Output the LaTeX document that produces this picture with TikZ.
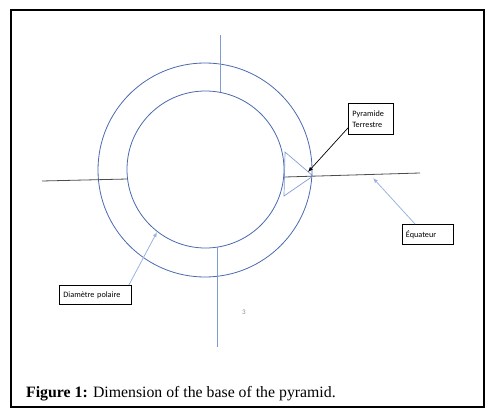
\documentclass[tikz,border=0pt]{standalone}
\usepackage{fontspec}
\setmainfont{Liberation Serif}
\newfontfamily\lblfont{Carlito}
\usepackage{xcolor}
\usetikzlibrary{arrows.meta}
\definecolor{ringblue}{HTML}{4A69AE}
\definecolor{lineblue}{HTML}{7F9BD6}
\definecolor{arrowblue}{HTML}{9AB3DE}

\begin{document}
\begin{tikzpicture}[x=1pt,y=-1pt,>=Latex,
  lbl/.style={draw,line width=0.9pt,anchor=north west,align=left,inner sep=0pt,
    font=\lblfont\fontsize{8.2}{11}\selectfont}]
\useasboundingbox (0,0) rectangle (501,420);
\draw[line width=1.3pt] (11,10) rectangle (484,407);
% the two rings
\node[draw=ringblue,line width=0.8pt,circle,inner sep=0pt,minimum size=214pt] (outer) at (205,170) {};
\node[draw=ringblue,line width=0.8pt,circle,inner sep=0pt,minimum size=157pt] (inner) at (205.5,169.5) {};
\coordinate (n1) at (220,35); \coordinate (n2) at (220,92.4);
\coordinate (s1) at (217,247); \coordinate (s2) at (217,347);
\coordinate (w1) at (42,181); \coordinate (w2) at (127.6,179);
\coordinate (e1) at (285,177); \coordinate (e2) at (420,173);
\coordinate (t1) at (285,152); \coordinate (t2) at (313,176); \coordinate (t3) at (284,196);
\draw[lineblue,line width=0.8pt] (n1)--(n2);
\draw[lineblue,line width=0.8pt] (s1)--(s2);
\draw[black!70,line width=0.8pt] (w1)--(w2);
\draw[black!70,line width=0.8pt] (e1)--(e2);
\draw[lineblue,line width=0.7pt] (t1)--(t2)--(t3)--cycle;
% labels
\node[lbl,minimum width=45pt,minimum height=31pt,text width=37pt,inner xsep=4pt,inner ysep=3pt] (pyr) at (348,103) {Pyramide\\Terrestre};
\node[lbl,minimum width=51pt,minimum height=20pt,text width=44pt,inner xsep=3.5pt] (equ) at (402,224) {Équateur};
\node[lbl,minimum width=71pt,minimum height=19pt,text width=64pt,inner xsep=4pt] (dia) at (59,285) {Diamètre polaire};
\coordinate (pyrtip) at (308,172);
\coordinate (equtip) at (373,178);
\coordinate (diatip) at (157,232);
\draw[-{Latex[length=5pt,width=4pt]},line width=0.7pt] ([yshift=7pt]pyr.south west)--(pyrtip);
\draw[-{Latex[length=5pt,width=4pt]},arrowblue,line width=0.8pt] ([xshift=13pt]equ.north west)--(equtip);
\draw[-{Latex[length=5pt,width=4pt]},arrowblue,line width=0.8pt] ([xshift=-3pt]dia.north east)--(diatip);
\node[text=black!45,font=\lblfont\fontsize{7}{8}\selectfont] (pg) at (244,312) {3};
\node[anchor=west,inner sep=0pt,font=\fontsize{15.8}{18}\selectfont] (cap) at (26,394) {\textbf{Figure 1:} Dimension of the base of the pyramid.};
\end{tikzpicture}
\end{document}
